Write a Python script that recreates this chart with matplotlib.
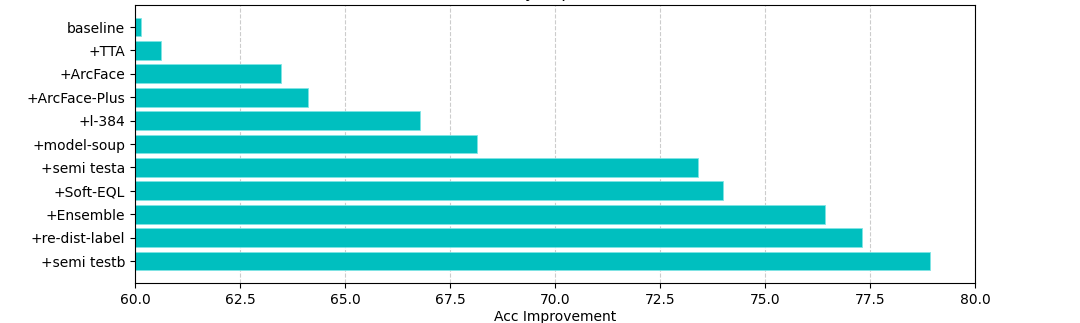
import matplotlib
matplotlib.use("Agg")
import matplotlib.pyplot as plt

methods = ["baseline", "+TTA", "+ArcFace", "+ArcFace-Plus", "+l-384", "+model-soup",
           "+semi testa", "+Soft-EQL", "+Ensemble", "+re-dist-label", "+semi testb"]
acc = [60.14, 60.63, 63.48, 64.11, 66.78, 68.15, 73.40, 73.99, 76.42, 77.32, 78.93]

fig = plt.figure(figsize=(10.8, 3.23), dpi=100)
ax = fig.add_axes([0.125, 0.1238, 0.7778, 0.8607])
ax.barh(methods, acc, color="#00BFBF", edgecolor="#7fe5e5", linewidth=0.6)
ax.invert_yaxis()
ax.set_xlim(60, 80)
ax.set_xlabel("Acc Improvement", labelpad=2)
ax.set_title("Accuracy Improvement", pad=6)
ax.grid(axis="x", linestyle="--", color="#cccccc", linewidth=0.8)
ax.set_axisbelow(True)
fig.savefig("out.png", dpi=100)
